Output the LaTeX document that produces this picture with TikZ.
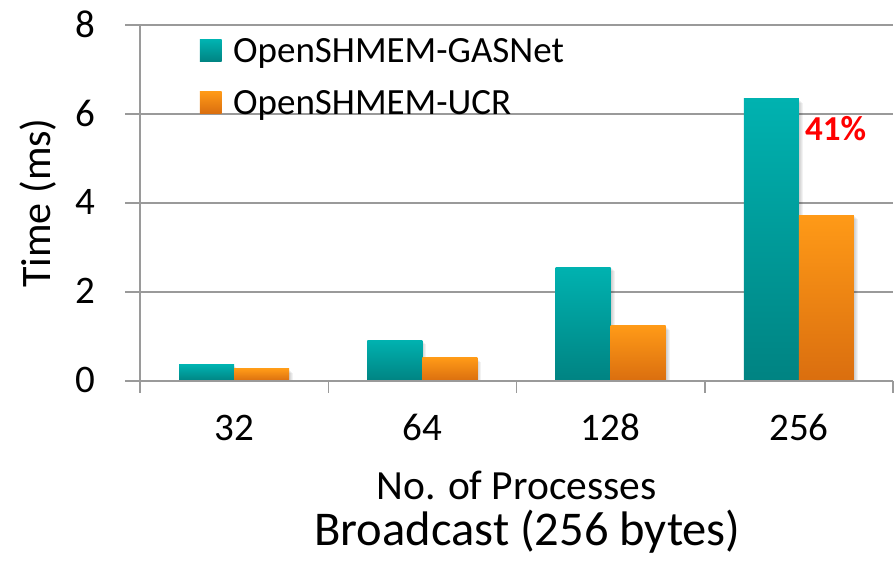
\documentclass[tikz,border=0pt]{standalone}
\usepackage{fontspec}
\setmainfont{Carlito}
\definecolor{gridgray}{HTML}{9A9A9A}
\definecolor{tealtop}{HTML}{00B2B0}
\definecolor{tealbot}{HTML}{008382}
\definecolor{orgtop}{HTML}{FF9A17}
\definecolor{orgbot}{HTML}{DA6E0F}
\definecolor{pctred}{HTML}{FF0000}
% y-to-pixel mapping of the value axis: 0 at 381, 44.5 per unit
\newcommand\vpos[1]{381-44.5*#1}
% one shaded bar with a soft shadow: left edge, right edge, value, style
\newcommand\onebar[4]{%
  \foreach \k in {1,...,4}{%
    \fill[black,opacity=0.05] ({#1+\k},{\vpos{#3}+\k}) rectangle ({#2+\k},381);}%
  \path[#4] (#1,{\vpos{#3}}) rectangle (#2,381);}
\begin{document}
\begin{tikzpicture}[x=1pt,y=-1pt,
  gridline/.style={draw=gridgray,line width=1.5pt},
  gasbar/.style={top color=tealtop,bottom color=tealbot,draw=none},
  ucrbar/.style={top color=orgtop,bottom color=orgbot,draw=none},
  ticklab/.style={font=\fontsize{39}{42}\selectfont,inner sep=0pt},
  keylab/.style={font=\fontsize{37}{40}\selectfont,inner sep=0pt,anchor=base west},
  keybox/.style={rectangle,minimum size=21.7pt,inner sep=0pt}]
\useasboundingbox (0,0) rectangle (895,562);

% horizontal gridlines with their ticks
\foreach \v in {2,4,6,8}
  \draw[gridline] (125,{\vpos{\v}}) -- (893,{\vpos{\v}});

% value-axis tick labels
\foreach \v in {0,2,4,6,8}
  \node[ticklab,anchor=east] (yl\v) at (95,{\vpos{\v}-1}) {\v};

% bars
\foreach \c/\g/\u [count=\i] in {234.1/0.36/0.27, 422.4/0.92/0.52, 610.6/2.56/1.24, 798.9/6.34/3.73}{
  \onebar{\c-55}{\c}{\g}{gasbar}
  \onebar{\c}{\c+55}{\u}{ucrbar}
}

% axes
\draw[gridline] (125,381) -- (893,381);
\draw[gridline] (140,25) -- (140,393);
\foreach \x in {328.25,516.5,704.75,893}
  \draw[gridline] (\x,381) -- (\x,393);

% category labels
\foreach \c/\t in {234.1/32, 422.4/64, 610.6/128, 798.9/256}
  \node[ticklab,anchor=base] (cat\t) at (\c,440) {\t};

% axis titles
\node[inner sep=0pt,rotate=90,font=\fontsize{42}{46}\selectfont] (ytitle) at (38,203) {Time (ms)};
\node[inner sep=0pt,anchor=base,font=\fontsize{41.5}{46}\selectfont] (xtitle) at (516.5,499) {No. of Processes};
\node[inner sep=0pt,anchor=base,font=\fontsize{48.5}{52}\selectfont] (ctitle) at (527.5,545) {Broadcast (256 bytes)};

% legend
\node[keybox,gasbar] (keygas) at (210.8,50.8) {};
\node[keylab] (labgas) at (233,62.5) {OpenSHMEM-GASNet};
\node[keybox,ucrbar] (keyucr) at (210.8,102.5) {};
\node[keylab] (labucr) at (233,114) {OpenSHMEM-UCR};

% improvement annotation
\node[inner sep=0pt,anchor=base west,text=pctred,font=\bfseries\fontsize{35}{38}\selectfont] (gain) at (805,140) {41\%};
\end{tikzpicture}
\end{document}
